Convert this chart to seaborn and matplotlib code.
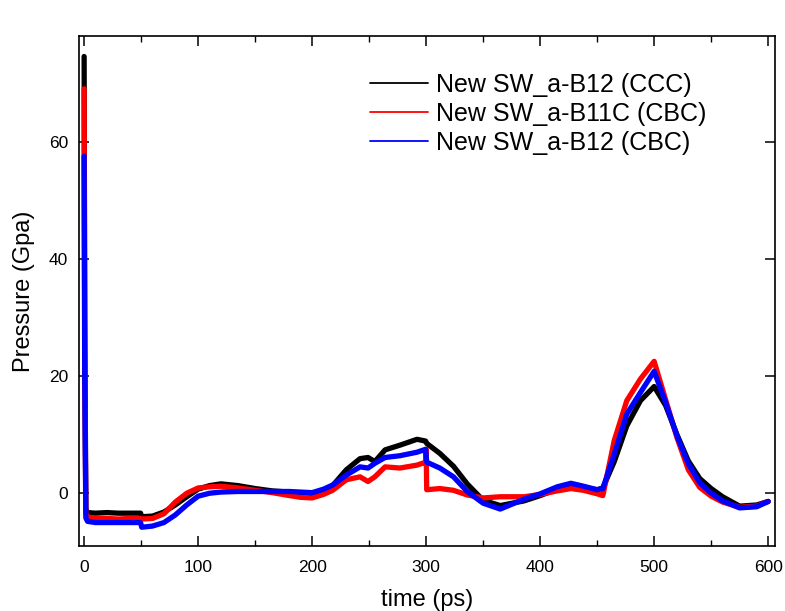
import numpy as np
import pandas as pd
import matplotlib
matplotlib.use("Agg")
import matplotlib.pyplot as plt
import seaborn as sns
from matplotlib.ticker import MultipleLocator
from matplotlib.lines import Line2D

# ---- data ----
time_ps = [0, 0.5, 1.5, 3, 10, 20, 30, 40, 49.5, 50.5, 60, 70, 80, 90, 100,
           110, 120, 135, 150, 165, 180, 190, 200, 210, 218, 230, 242, 249, 255,
           264, 277, 292, 299.5, 300, 300.5, 312, 324, 336, 350, 365, 386, 400,
           415, 427, 438, 450, 455, 465, 476, 488, 500, 510, 520, 530, 540, 550,
           560, 575, 590, 600]

p_b12_ccc = [74.5, 30, -2.8, -3.3, -3.4, -3.3, -3.4, -3.4, -3.4, -4.0, -3.9, -3.2,
             -2.0, -0.6, 0.7, 1.3, 1.6, 1.3, 0.8, 0.4, 0.2, -0.1, -0.3, 0.3, 1.3,
             4.0, 5.9, 6.1, 5.4, 7.4, 8.2, 9.2, 8.9, 8.7, 8.5, 6.8, 4.6, 1.6, -1.2,
             -2.1, -1.3, -0.4, 0.7, 1.1, 0.9, 0.6, 0.9, 5.4, 11.5, 15.8, 18.2, 15.0,
             10.0, 5.5, 2.5, 0.8, -0.6, -2.2, -2.0, -1.4]

p_b11c_cbc = [69.0, 25, -3.5, -4.0, -4.3, -4.3, -4.4, -4.3, -4.3, -4.4, -4.3, -3.5,
              -1.5, 0.0, 0.9, 1.1, 1.2, 0.9, 0.5, 0.1, -0.4, -0.7, -0.8, -0.2, 0.5,
              2.3, 2.8, 2.0, 2.8, 4.5, 4.3, 4.8, 5.3, 7.5, 0.6, 0.8, 0.5, -0.3, -0.8,
              -0.6, -0.6, -0.2, 0.4, 0.8, 0.5, -0.1, -0.4, 9.0, 15.8, 19.5, 22.5,
              16.0, 9.5, 4.0, 1.0, -0.5, -1.5, -2.4, -2.2, -1.4]

p_b12_cbc = [57.5, 20, -4.2, -4.8, -5.0, -5.0, -5.0, -5.0, -5.0, -5.8, -5.6, -5.0,
             -3.7, -2.0, -0.5, 0.0, 0.2, 0.3, 0.3, 0.3, 0.3, 0.2, 0.1, 0.7, 1.4,
             3.1, 4.5, 4.3, 5.1, 6.1, 6.4, 7.0, 7.5, 6.5, 5.3, 4.3, 2.8, 0.3, -1.7,
             -2.7, -1.0, -0.1, 1.1, 1.7, 1.2, 0.6, 0.8, 6.7, 13.5, 17.2, 20.8,
             15.5, 9.8, 5.0, 1.8, 0.0, -1.3, -2.5, -2.3, -1.4]

series_names = ["New SW_a-B12 (CCC)", "New SW_a-B11C (CBC)", "New SW_a-B12 (CBC)"]
series_colors = ["#000000", "#ff0000", "#0000ff"]
x_ticks = [0, 100, 200, 300, 400, 500, 600]
y_ticks = [0, 20, 40, 60]

df = pd.concat([
    pd.DataFrame({"time": time_ps, "pressure": vals, "series": name})
    for name, vals in zip(series_names, [p_b12_ccc, p_b11c_cbc, p_b12_cbc])
], ignore_index=True)

# ---- style ----
sns.set_style("ticks")
plt.rcParams["font.family"] = ["Liberation Sans", "DejaVu Sans"]
plt.rcParams["text.color"] = "black"
plt.rcParams["axes.labelcolor"] = "black"
plt.rcParams["xtick.color"] = "black"
plt.rcParams["ytick.color"] = "black"

W, H = 785, 611
fig = plt.figure(figsize=(W / 100, H / 100), dpi=100)
ax = fig.add_axes([79 / W, 1 - 546 / H, (775 - 79) / W, (546 - 36) / H])

sns.lineplot(data=df, x="time", y="pressure", hue="series", hue_order=series_names,
             palette=dict(zip(series_names, series_colors)), estimator=None,
             sort=False, lw=3.8, legend=False, ax=ax)

ax.set_xlim(-4.5, 606)
ax.set_ylim(-9, 78)
ax.set_xticks(x_ticks)
ax.set_yticks(y_ticks)
ax.xaxis.set_minor_locator(MultipleLocator(50))

for s in ax.spines.values():
    s.set_linewidth(1.2)
    s.set_color("black")

ax.tick_params(which="major", direction="in", top=True, right=True, length=7,
               width=1.1, labelsize=12.5, colors="black")
ax.tick_params(which="minor", direction="in", top=True, right=True, length=4,
               width=1.0, colors="black")
ax.tick_params(axis="x", which="major", pad=10)
ax.tick_params(axis="y", which="major", pad=8)

ax.set_xlabel("time (ps)", fontsize=17, labelpad=10, color="black")
ax.set_ylabel("Pressure (Gpa)", fontsize=17, labelpad=10, color="black")

handles = [Line2D([0], [0], color=c, lw=1.3) for c in series_colors]
leg = fig.legend(handles, series_names, loc="upper left",
                 bbox_to_anchor=(370 / W, 1 - 73 / H), frameon=False, fontsize=18,
                 handlelength=2.3, handletextpad=0.35, labelspacing=0.2,
                 borderpad=0, borderaxespad=0)
for t in leg.get_texts():
    t.set_color("black")

fig.savefig("out.png", dpi=100, facecolor="white")
